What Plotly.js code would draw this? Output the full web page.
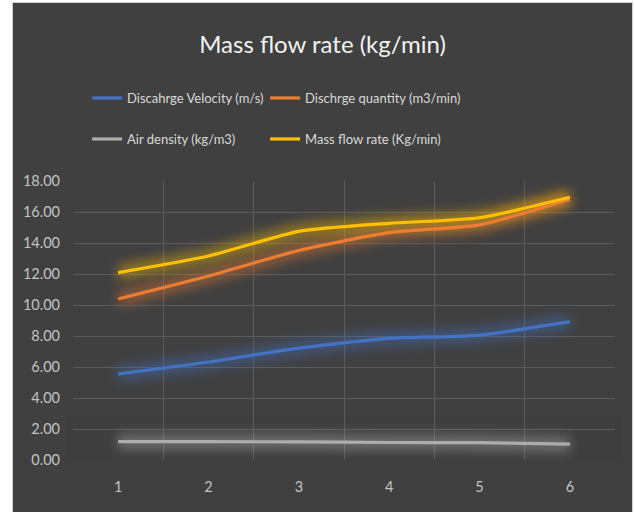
<!DOCTYPE html>
<html>
<head>
<meta charset="utf-8">
<script src="https://cdn.plot.ly/plotly-3.0.1.min.js"></script>
<style>
  html, body { margin: 0; padding: 0; background: #ffffff; width: 634px; height: 512px; overflow: hidden; }
  #frame { position: absolute; left: 12px; top: 2px; width: 619px; height: 510px; border: 1px solid #cfcfcf; border-bottom: none; background: #404040; }
  #chart { position: absolute; left: 0; top: 0; width: 619px; height: 510px; }
  #chart .glow { filter: blur(6px); }
</style>
</head>
<body>
<div id="frame"><div id="chart"></div></div>
<script>
// ---- data ----
const categories = ['1', '2', '3', '4', '5', '6'];
const dischargeVelocity = [5.55, 6.32, 7.22, 7.85, 8.06, 8.93];
const dischargeQuantity = [10.39, 11.87, 13.52, 14.67, 15.17, 16.82];
const airDensity = [1.18, 1.18, 1.17, 1.13, 1.12, 1.02];
const massFlowRate = [12.09, 13.16, 14.75, 15.27, 15.63, 16.95];
const seriesNames = ['Discahrge Velocity (m/s)', 'Dischrge quantity (m3/min)', 'Air density (kg/m3)', 'Mass flow rate (Kg/min)'];
const yTickVals = [0, 2, 4, 6, 8, 10, 12, 14, 16, 18];

const seriesData = [dischargeVelocity, dischargeQuantity, airDensity, massFlowRate];
const colors = ['#4472C4', '#ED7D31', '#ADADAD', '#FFC000'];
const legends = ['legend', 'legend', 'legend2', 'legend2'];

const traces = [];
// glow layers (blurred via CSS)
seriesData.forEach((ys, i) => {
  traces.push({
    x: categories, y: ys, type: 'scatter', mode: 'lines', uid: 'glow' + i,
    line: { color: colors[i], width: 14, shape: 'spline', smoothing: 0.6 },
    opacity: 0.45, showlegend: false, hoverinfo: 'skip'
  });
});
seriesData.forEach((ys, i) => {
  traces.push({
    x: categories, y: ys, type: 'scatter', mode: 'lines', name: seriesNames[i],
    legend: legends[i], uid: 'main' + i, legendwidth: (i % 2 === 1) ? 200 : 133,
    line: { color: colors[i], width: 3.2, shape: 'spline', smoothing: 0.6 }
  });
});

const fontFam = 'Lato, "Liberation Sans", sans-serif';
const legendCommon = {
  orientation: 'h', xanchor: 'left', yanchor: 'middle',
  bgcolor: 'rgba(0,0,0,0)', borderwidth: 0,
  font: { family: fontFam, size: 13, color: '#d9d9d9' },
  entrywidth: 133, entrywidthmode: 'pixels', itemwidth: 30,
  traceorder: 'normal'
};

const layout = {
  width: 619, height: 510,
  paper_bgcolor: '#404040', plot_bgcolor: '#404040',
  margin: { l: 60, r: 17, t: 178, b: 53 },
  title: {
    text: 'Mass flow rate (kg/min)',
    font: { family: fontFam, size: 24, color: '#f2f2f2' },
    x: 0.5, xanchor: 'center', y: 1 - 42 / 510, yanchor: 'middle', xref: 'container', yref: 'container'
  },
  legend: Object.assign({}, legendCommon, { x: 0.026, y: 1.2975 }),
  legend2: Object.assign({}, legendCommon, { x: 0.026, y: 1.1505 }),
  xaxis: {
    type: 'category', range: [-0.5, 5.5], tickson: 'boundaries',
    showgrid: true, gridcolor: '#5c5c5c', gridwidth: 1,
    showline: false, zeroline: false, ticks: '',
    tickfont: { family: fontFam, size: 14.5, color: '#c4c4c4' },
    ticklabelstandoff: 16, fixedrange: true
  },
  yaxis: {
    range: [0, 18], tickvals: yTickVals, tickformat: '.2f',
    showgrid: true, gridcolor: '#5c5c5c', gridwidth: 1,
    showline: false, zeroline: false, ticks: '',
    tickfont: { family: fontFam, size: 14.5, color: '#c4c4c4' },
    ticklabelstandoff: 12, fixedrange: true
  },
  shapes: [
    { type: 'rect', xref: 'paper', yref: 'y', x0: -0.01, x1: 1.01, y0: -0.5, y1: 5, layer: 'between', line: { width: 0 }, fillcolor: 'rgba(64,64,64,0.25)' },
    { type: 'rect', xref: 'paper', yref: 'y', x0: -0.01, x1: 1.01, y0: -0.5, y1: 3, layer: 'between', line: { width: 0 }, fillcolor: 'rgba(64,64,64,0.35)' },
    { type: 'rect', xref: 'paper', yref: 'y', x0: -0.01, x1: 1.01, y0: -0.5, y1: 1, layer: 'between', line: { width: 0 }, fillcolor: 'rgba(64,64,64,0.6)' }
  ],
  hovermode: false,
  showlegend: true
};

Plotly.newPlot('chart', traces, layout, { displayModeBar: false, staticPlot: true }).then(gd => {
  gd.querySelectorAll('.scatterlayer .trace').forEach(g => {
    if (/traceglow/.test(g.getAttribute('class'))) g.classList.add('glow');
  });
});
</script>
</body>
</html>
